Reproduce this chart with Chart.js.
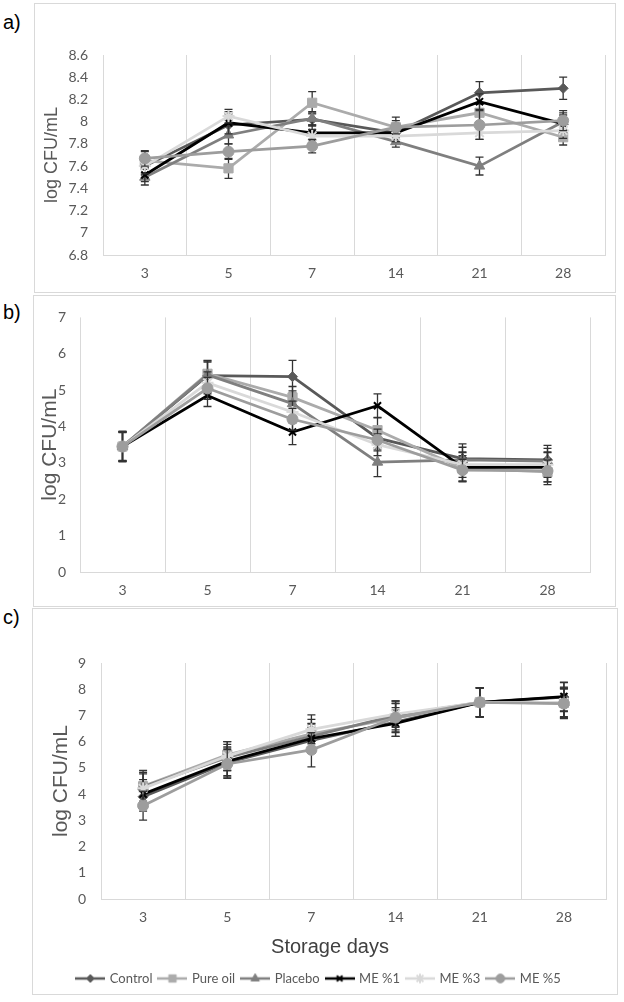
<!DOCTYPE html>
<html>
<head>
<meta charset="utf-8">
<script src="https://cdn.jsdelivr.net/npm/chart.js@4.4.1/dist/chart.umd.min.js"></script>
<style>
  body { margin: 0; width: 624px; height: 1002px; background: #fff; position: relative; overflow: hidden; }
  .frame { position: absolute; box-sizing: border-box; border: 1px solid #d9d9d9; }
  .box { position: absolute; }
  .tag { position: absolute; left: 3px; font: 20px "Liberation Sans", Arial, sans-serif; color: #000; }
  #xtitle { position: absolute; left: 230px; width: 200px; top: 935px; text-align: center;
            font: 20px "Liberation Sans", Arial, sans-serif; color: #404040; }
</style>
</head>
<body>
<div class="tag" style="top:11px">a)</div>
<div class="tag" style="top:301px">b)</div>
<div class="tag" style="top:606px">c)</div>

<div class="frame" style="left:34px;top:3px;width:582px;height:290px"></div>
<div class="frame" style="left:33px;top:295px;width:583px;height:312px"></div>
<div class="frame" style="left:32px;top:608px;width:586px;height:387px"></div>

<div class="box" style="left:34px;top:3px;width:582px;height:290px"><canvas id="chartA"></canvas></div>
<div class="box" style="left:33px;top:295px;width:583px;height:312px"><canvas id="chartB"></canvas></div>
<div class="box" style="left:32px;top:608px;width:586px;height:387px"><canvas id="chartC"></canvas></div>
<div id="xtitle">Storage days</div>

<script>
const days = ['3', '5', '7', '14', '21', '28'];
const seriesNames = ['Control', 'Pure oil', 'Placebo', 'ME %1', 'ME %3', 'ME %5'];

// a)
const aControl = [7.60, 7.97, 8.02, 7.90, 8.26, 8.30];
const aPureOil = [7.65, 7.58, 8.17, 7.95, 8.08, 7.86];
const aPlacebo = [7.50, 7.88, 8.03, 7.82, 7.60, 8.00];
const aMe1 = [7.52, 7.99, 7.90, 7.90, 8.18, 7.98];
const aMe3 = [7.60, 8.05, 7.87, 7.87, 7.90, 7.92];
const aMe5 = [7.67, 7.73, 7.78, 7.95, 7.97, 8.01];
const aControlErr = [0.08, 0.10, 0.06, 0.06, 0.10, 0.10];
const aPureOilErr = [0.08, 0.09, 0.10, 0.09, 0.08, 0.07];
const aPlaceboErr = [0.07, 0.08, 0.06, 0.05, 0.08, 0.08];
const aMe1Err = [0.06, 0.10, 0.07, 0.06, 0.07, 0.08];
const aMe3Err = [0.07, 0.06, 0.06, 0.05, 0.06, 0.07];
const aMe5Err = [0.07, 0.07, 0.06, 0.06, 0.13, 0.09];

// b)
const bControl = [3.45, 5.40, 5.37, 3.68, 3.12, 3.08];
const bPureOil = [3.45, 5.45, 4.80, 3.90, 2.85, 2.75];
const bPlacebo = [3.45, 5.42, 4.63, 3.02, 3.08, 3.05];
const bMe1 = [3.45, 4.85, 3.85, 4.57, 2.88, 2.88];
const bMe3 = [3.45, 5.20, 4.40, 3.50, 2.95, 2.95];
const bMe5 = [3.45, 5.05, 4.20, 3.63, 2.80, 2.78];
const bControlErr = [0.40, 0.42, 0.45, 0.30, 0.40, 0.40];
const bPureOilErr = [0.42, 0.35, 0.30, 0.35, 0.35, 0.35];
const bPlaceboErr = [0.40, 0.35, 0.35, 0.40, 0.35, 0.35];
const bMe1Err = [0.38, 0.30, 0.35, 0.33, 0.40, 0.40];
const bMe3Err = [0.40, 0.30, 0.30, 0.30, 0.35, 0.35];
const bMe5Err = [0.40, 0.30, 0.30, 0.30, 0.30, 0.30];

// c)
const cControl = [3.90, 5.20, 6.05, 6.75, 7.50, 7.70];
const cPureOil = [4.30, 5.50, 6.30, 6.90, 7.50, 7.48];
const cPlacebo = [4.28, 5.40, 6.20, 7.00, 7.50, 7.48];
const cMe1 = [4.00, 5.25, 6.12, 6.70, 7.50, 7.72];
const cMe3 = [4.22, 5.45, 6.47, 7.05, 7.50, 7.50];
const cMe5 = [3.56, 5.15, 5.69, 6.92, 7.50, 7.45];
const cControlErr = [0.55, 0.55, 0.50, 0.55, 0.55, 0.55];
const cPureOilErr = [0.60, 0.50, 0.55, 0.55, 0.55, 0.60];
const cPlaceboErr = [0.55, 0.50, 0.50, 0.55, 0.55, 0.55];
const cMe1Err = [0.55, 0.55, 0.55, 0.50, 0.55, 0.55];
const cMe3Err = [0.55, 0.55, 0.55, 0.50, 0.55, 0.55];
const cMe5Err = [0.55, 0.55, 0.65, 0.55, 0.55, 0.55];

const seriesColors = ['#595959', '#ababab', '#7f7f7f', '#000000', '#d9d9d9', '#9d9d9d'];
const pointStyles = ['rectRot', 'rect', 'triangle', 'crossRot', 'star', 'circle'];
const pointRadii = [5, 6.5, 6, 5, 6, 5.5];

Chart.defaults.font.family = 'Lato, sans-serif';
Chart.defaults.color = '#595959';

// draws each series' error bars just before the series itself
const errorBars = {
  id: 'errorBars',
  beforeDatasetDraw(chart, args) {
    const ds = chart.data.datasets[args.index];
    if (!ds.errors) return;
    const y = chart.scales.y;
    const ctx = chart.ctx;
    ctx.save();
    ctx.strokeStyle = '#333333';
    ctx.lineWidth = 1.3;
    args.meta.data.forEach((pt, i) => {
      const top = y.getPixelForValue(ds.data[i] + ds.errors[i]);
      const bot = y.getPixelForValue(ds.data[i] - ds.errors[i]);
      ctx.beginPath();
      ctx.moveTo(pt.x, top); ctx.lineTo(pt.x, bot);
      ctx.moveTo(pt.x - 4, top); ctx.lineTo(pt.x + 4, top);
      ctx.moveTo(pt.x - 4, bot); ctx.lineTo(pt.x + 4, bot);
      ctx.stroke();
    });
    ctx.restore();
  }
};

function buildSets(means, errs) {
  return means.map((m, i) => ({
    label: seriesNames[i],
    data: m,
    errors: errs[i],
    borderColor: seriesColors[i],
    backgroundColor: seriesColors[i],
    borderWidth: 2.75,
    tension: 0,
    pointStyle: pointStyles[i],
    pointRadius: pointRadii[i],
    pointBorderWidth: (i === 3 || i === 4) ? 2 : 1,
    pointBackgroundColor: seriesColors[i],
    pointBorderColor: seriesColors[i],
    order: 6 - i
  }));
}

function legendIcon(i) {
  const c = document.createElement('canvas');
  c.width = 30; c.height = 14;
  const g = c.getContext('2d');
  g.strokeStyle = seriesColors[i];
  g.fillStyle = seriesColors[i];
  g.lineWidth = 2.5;
  g.beginPath(); g.moveTo(0, 7); g.lineTo(30, 7); g.stroke();
  g.lineWidth = (i === 3 || i === 4) ? 2 : 1;
  Chart.helpers.drawPoint(g, {pointStyle: pointStyles[i], radius: pointRadii[i] * 0.8, borderWidth: g.lineWidth, rotation: 0}, 15, 7);
  return c;
}

function panel(id, o) {
  return new Chart(document.getElementById(id), {
    type: 'line',
    data: { labels: days, datasets: buildSets(o.means, o.errs) },
    options: {
      responsive: true,
      maintainAspectRatio: false,
      animation: false,
      layout: { padding: o.pad },
      plugins: {
        tooltip: { enabled: false },
        legend: o.legend ? {
          position: 'bottom',
          labels: {
            usePointStyle: true,
            pointStyleWidth: 26,
            boxHeight: 13,
            padding: 7,
            color: '#595959',
            font: { size: 13 },
            generateLabels: chart => chart.data.datasets.map((ds, i) => ({
              text: ds.label,
              pointStyle: legendIcon(i),
              fillStyle: 'transparent',
              strokeStyle: 'transparent',
              lineWidth: 0,
              hidden: false,
              datasetIndex: i,
              fontColor: '#595959'
            }))
          }
        } : { display: false }
      },
      scales: {
        x: {
          offset: true,
          grid: { color: '#d9d9d9', offset: true, drawTicks: false },
          border: { color: '#d9d9d9' },
          ticks: { padding: 10, font: { size: 14 } },
          afterFit: s => { s.height = o.xh; }
        },
        y: {
          min: o.min, max: o.max,
          grid: { display: false, drawTicks: false },
          border: { display: false },
          ticks: { stepSize: o.step, padding: o.tp, font: { size: 14 },
                   callback: v => String(Math.round(v * 10) / 10) },
          title: { display: true, text: 'log CFU/mL', color: '#595959',
                   font: { family: '"Liberation Sans", Arial, sans-serif', size: o.tf },
                   padding: { top: o.tpad, bottom: 0 } },
          afterFit: s => { s.width = o.yw; }
        }
      }
    },
    plugins: [errorBars]
  });
}

panel('chartA', {
  means: [aControl, aPureOil, aPlacebo, aMe1, aMe3, aMe5],
  errs: [aControlErr, aPureOilErr, aPlaceboErr, aMe1Err, aMe3Err, aMe5Err],
  min: 6.8, max: 8.6, step: 0.2,
  pad: { left: 0, right: 11, top: 52, bottom: 12 }, xh: 26, yw: 69, tp: 15, tf: 18, tpad: 7
});
panel('chartB', {
  means: [bControl, bPureOil, bPlacebo, bMe1, bMe3, bMe5],
  errs: [bControlErr, bPureOilErr, bPlaceboErr, bMe1Err, bMe3Err, bMe5Err],
  min: 0, max: 7, step: 1,
  pad: { left: 0, right: 26, top: 10, bottom: 9 }, xh: 26, yw: 47, tp: 14, tf: 21, tpad: 5
});
panel('chartC', {
  means: [cControl, cPureOil, cPlacebo, cMe1, cMe3, cMe5],
  errs: [cControlErr, cPureOilErr, cPlaceboErr, cMe1Err, cMe3Err, cMe5Err],
  min: 0, max: 9, step: 1, legend: true,
  pad: { left: 0, right: 12, top: 55, bottom: 0 }, xh: 66, yw: 69, tp: 15, tf: 21, tpad: 17
});
</script>
</body>
</html>
